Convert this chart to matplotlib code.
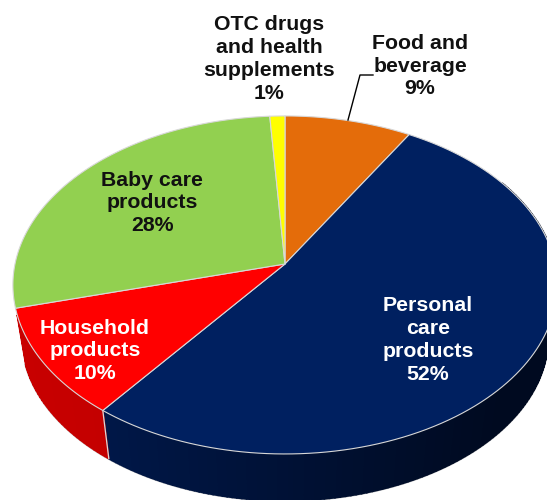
"""Perspective 3D pie of product category shares."""
import numpy as np
import matplotlib
matplotlib.use("Agg")
import matplotlib.pyplot as plt
from matplotlib.patches import Polygon

# slices run clockwise from twelve o'clock
categories = ["Food and\nbeverage", "Personal\ncare\nproducts", "Household\nproducts",
              "Baby care\nproducts", "OTC drugs\nand health\nsupplements"]
shares = [9, 52, 10, 28, 1]
colors = ["#E46C0A", "#002060", "#FF0000", "#92D050", "#FFFF00"]
wall_left = ["#A04A05", "#001A50", "#C80000", "#6A9A38", "#B0B000"]
wall_right = ["#A04A05", "#000A20", "#B00000", "#6A9A38", "#B0B000"]
text_colors = ["#111111", "white", "white", "#111111", "#111111"]
label_xy = [(420, 66), (428, 340), (95, 351), (152, 203), (269, 59)]

CX, CY = 285, 264
A, B, K = 270, 166.4, 0.124
DROP = 53
SHRINK = 0.967
RIM = "#d8d8d8"
WALL_FROM, WALL_TO = np.radians(60), np.radians(254)

plt.rcParams["font.family"] = ["Liberation Sans", "DejaVu Sans"]


def project(t, drop=0.0, shrink=1.0):
    # t in radians clockwise from the top, foreshortened towards the back
    t = t - np.radians(2.2) * np.sin(2 * t) ** 2
    u = np.sin(t)
    v = np.cos(t)
    d = 1 + K * v
    return np.column_stack([CX + shrink * A * u / d,
                            CY + drop - shrink * B * v / d])


def mix(c1, c2, f):
    a = np.array(matplotlib.colors.to_rgb(c1))
    b = np.array(matplotlib.colors.to_rgb(c2))
    return tuple(a + (b - a) * f)


fig = plt.figure(figsize=(5.47, 5), dpi=100)
ax = fig.add_axes([0, 0, 1, 1])
ax.set_xlim(0, 547)
ax.set_ylim(500, 0)
ax.axis("off")

edges = np.radians(np.concatenate([[0], np.cumsum(shares)]) * 3.6)

# soft outline round the lower silhouette
ts = np.linspace(WALL_FROM, WALL_TO, 300)
low = project(ts, drop=DROP, shrink=SHRINK)
ax.plot(low[:, 0], low[:, 1], color="#999999", lw=1.8, alpha=0.6, zorder=1)

# side wall, built from thin strips so the shade can change along the rim
for i in range(len(shares)):
    t0, t1 = edges[i], edges[i + 1]
    steps = max(2, int(np.degrees(t1 - t0)))
    grid = np.linspace(t0, t1, steps + 1)
    for a, b in zip(grid[:-1], grid[1:]):
        mid = 0.5 * (a + b)
        if not WALL_FROM < mid < WALL_TO:
            continue
        pair = np.array([a, b])
        top = project(pair)
        bot = project(pair, drop=DROP, shrink=SHRINK)
        f = np.clip((top[:, 0].mean() - 20) / 480, 0, 1)
        col = mix(wall_left[i], wall_right[i], f)
        ax.add_patch(Polygon(np.vstack([top, bot[::-1]]), fc=col, ec=col, lw=1.2, zorder=2))

# seam on the wall where two front slices meet
for t in edges[1:-1]:
    if np.radians(90) < t < np.radians(240):
        seg = np.vstack([project(np.array([t])), project(np.array([t]), drop=DROP, shrink=SHRINK)])
        ax.plot(seg[:, 0], seg[:, 1], color=RIM, lw=0.9, zorder=3)

# top faces
for i in range(len(shares)):
    arc = project(np.linspace(edges[i], edges[i + 1], 120))
    ax.add_patch(Polygon(np.vstack([[CX, CY], arc]), closed=True, fc=colors[i],
                         ec=RIM, lw=0.8, joinstyle="round", zorder=4))

# leader line for the food slice
ax.plot([348, 360, 373], [120, 75, 75], color="black", lw=1.0, zorder=5)

for name, share, (x, y), tc in zip(categories, shares, label_xy, text_colors):
    ax.text(x, y, f"{name}\n{share}%", color=tc, fontsize=15.3, fontweight="bold",
            ha="center", va="center", linespacing=1.25, zorder=6)

fig.savefig("out.png", dpi=100, facecolor="white")
